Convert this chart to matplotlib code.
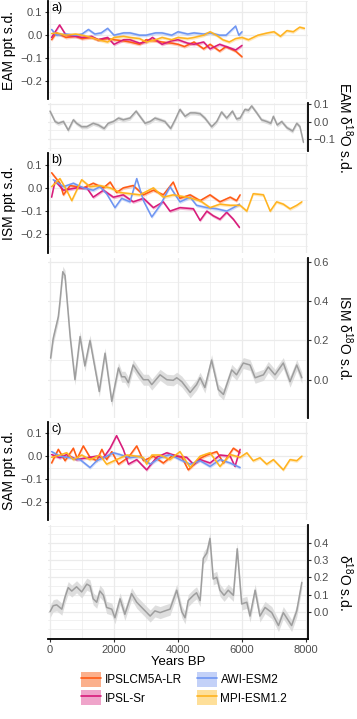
import numpy as np
import matplotlib
matplotlib.use("Agg")
import matplotlib.pyplot as plt
from matplotlib.patches import Patch
from matplotlib.lines import Line2D
from matplotlib.ticker import MultipleLocator

plt.rcParams["font.family"] = ["Liberation Sans", "DejaVu Sans"]
plt.rcParams["mathtext.fontset"] = "custom"
plt.rcParams["mathtext.rm"] = "Liberation Sans"
plt.rcParams["mathtext.it"] = "Liberation Sans:italic"
plt.rcParams["lines.solid_joinstyle"] = "round"
plt.rcParams["lines.solid_capstyle"] = "round"

# ---------------------------------------------------------------- data
models = ["IPSLCM5A-LR", "IPSL-Sr", "AWI-ESM2", "MPI-ESM1.2"]
line_colors = ["#FF5A14", "#D81B7A", "#6E95F2", "#FFB31F"]

# a) EAM precipitation s.d.
eam_ipslcm5a_x = [50, 200, 500, 800, 1000, 1300, 1500, 1800, 2000, 2300, 2500,
                  2800, 3000, 3300, 3500, 3800, 4000, 4200, 4500, 4800, 5000,
                  5300, 5500, 5800, 6000]
eam_ipslcm5a_y = [-0.02, 0.01, -0.01, -0.005, -0.015, -0.01, -0.02, -0.015,
                  -0.02, -0.025, -0.03, -0.04, -0.02, -0.025, -0.03, -0.035,
                  -0.04, -0.05, -0.03, -0.06, -0.04, -0.07, -0.05, -0.07,
                  -0.095]
eam_ipslsr_x = [50, 300, 500, 800, 1000, 1300, 1500, 1800, 2000, 2300, 2500,
                2800, 3000, 3200, 3500, 3800, 4000, 4300, 4500, 4800, 5000,
                5300, 5500, 5800, 6000]
eam_ipslsr_y = [-0.01, 0.045, 0.0, -0.005, -0.01, -0.005, -0.02, -0.01,
                -0.04, -0.02, -0.02, -0.035, -0.03, -0.01, -0.04, -0.025,
                -0.02, -0.035, -0.04, -0.03, -0.06, -0.04, -0.05, -0.065,
                -0.045]
eam_awi_x = [50, 200, 500, 800, 1000, 1200, 1400, 1600, 1800, 2000, 2300,
             2500, 2800, 3000, 3300, 3500, 3800, 4000, 4300, 4500, 4800, 5000,
             5300, 5500, 5800, 5900, 6000]
eam_awi_y = [0.025, 0.0, 0.005, 0.0, 0.005, 0.025, 0.005, 0.01, 0.03, 0.0,
             0.01, 0.01, 0.0, 0.0, 0.01, 0.01, 0.0, 0.015, 0.005, 0.01, 0.005,
             0.01, 0.0, 0.0, 0.04, 0.0, 0.015]
eam_mpi_x = [50, 200, 500, 800, 1000, 1300, 1500, 1800, 2000, 2300, 2500,
             2800, 3000, 3300, 3500, 3800, 4000, 4300, 4500, 4800, 5000, 5200,
             5400, 5600, 5800, 6000, 6200, 6500, 6800, 7000, 7200, 7400, 7600,
             7800, 7950]
eam_mpi_y = [0.007, 0.01, 0.0, 0.005, 0.0, -0.01, -0.02, -0.03, -0.01,
             -0.005, -0.01, -0.015, -0.03, -0.02, -0.01, -0.02, -0.01, -0.015,
             -0.01, 0.0, 0.015, 0.0, -0.02, -0.03, -0.015, -0.01, -0.02, 0.0,
             0.01, 0.015, -0.005, 0.02, 0.015, 0.035, 0.03]

# EAM speleothem d18O s.d.
eam_d18o_x = [0, 160, 260, 420, 570, 730, 830, 990, 1150, 1350, 1510, 1690,
              1820, 1980, 2140, 2290, 2500, 2690, 2810, 2970, 3130, 3280, 3440,
              3590, 3770, 3910, 4060, 4220, 4380, 4530, 4690, 4840, 5050, 5210,
              5360, 5520, 5700, 5830, 5940, 6090, 6200, 6300, 6460, 6610, 6770,
              6900, 6980, 7100, 7240, 7400, 7580, 7710, 7810, 7920]
eam_d18o_y = [0.06, 0.0, -0.01, 0.0, -0.05, 0.01, -0.01, -0.03, -0.03, -0.01,
              -0.02, -0.04, -0.01, 0.0, 0.02, 0.01, 0.02, 0.06, 0.03, -0.01,
              0.0, 0.02, 0.01, 0.0, -0.04, 0.01, 0.07, 0.03, 0.05, 0.05, 0.045,
              0.02, -0.03, 0.0, 0.055, 0.02, 0.06, 0.015, 0.02, 0.07, 0.065,
              0.09, 0.05, 0.01, 0.0, -0.01, 0.03, -0.02, 0.0, -0.035, -0.055,
              -0.01, -0.03, -0.12]

# b) ISM precipitation s.d.
ism_ipslcm5a_x = [50, 310, 420, 630, 1040, 1350, 1670, 1880, 2080, 2290, 2600,
                  2920, 3230, 3540, 3850, 4060, 4380, 4690, 5000, 5310, 5630,
                  5830, 5940]
ism_ipslcm5a_y = [0.065, 0.02, -0.03, 0.01, 0.0, 0.02, 0.0, 0.025, -0.02, 0.0,
                  0.01, -0.03, -0.01, -0.03, 0.025, -0.045, -0.03, -0.055,
                  -0.03, -0.06, -0.04, -0.055, -0.03]
ism_ipslsr_x = [50, 160, 420, 830, 1150, 1350, 1670, 1980, 2290, 2600, 2920,
                3230, 3540, 3750, 4060, 4480, 4690, 4900, 5100, 5310, 5520, 5730,
                5920]
ism_ipslsr_y = [-0.04, 0.03, -0.01, 0.0, 0.0, -0.04, -0.01, -0.04, -0.03, -0.06,
                -0.045, -0.085, -0.06, -0.1, -0.085, -0.09, -0.14, -0.1, -0.12,
                -0.135, -0.105, -0.135, -0.17]
ism_awi_x = [100, 420, 730, 1040, 1350, 1560, 1770, 2030, 2240, 2500, 2710,
             2920, 3180, 3440, 3750, 4060, 4380, 4580, 4900, 5210, 5520, 5730,
             5920]
ism_awi_y = [0.035, 0.005, 0.02, 0.0, -0.01, 0.005, -0.025, -0.085, -0.045,
             -0.06, 0.04, -0.055, -0.125, -0.075, 0.005, -0.06, -0.04, -0.075,
             -0.085, -0.09, -0.1, -0.085, -0.07]
ism_mpi_x = [50, 310, 520, 680, 990, 1250, 1560, 1880, 2190, 2500, 2810, 3230,
             3540, 3850, 4270, 4690, 5000, 5310, 5630, 5940, 6150, 6350, 6670,
             6880, 7080, 7290, 7500, 7710, 7870]
ism_mpi_y = [0.005, 0.04, -0.01, -0.055, 0.035, 0.005, 0.01, 0.0, -0.02,
             -0.025, -0.03, 0.0, -0.04, -0.03, -0.04, -0.055, -0.085, -0.07,
             -0.075, -0.075, -0.1, -0.025, -0.03, -0.1, -0.06, -0.07, -0.09,
             -0.075, -0.06]

# ISM speleothem d18O s.d.
ism_d18o_x = [20, 100, 260, 310, 400, 470, 630, 780, 940, 1090, 1250, 1540,
              1720, 1930, 2140, 2240, 2340, 2450, 2600, 2760, 2920, 3070, 3180,
              3440, 3650, 3850, 3960, 4120, 4380, 4580, 4690, 4840, 5050, 5260,
              5420, 5680, 5830, 6040, 6250, 6410, 6670, 6820, 7030, 7290, 7500,
              7710, 7870]
ism_d18o_y = [0.11, 0.21, 0.32, 0.395, 0.55, 0.53, 0.22, 0.0, 0.22, 0.07, 0.2,
              -0.06, 0.135, -0.11, 0.06, 0.015, 0.015, -0.015, 0.075, 0.035,
              0.0, 0.0, -0.025, 0.025, 0.0, -0.003, 0.01, -0.01, -0.065,
              -0.025, 0.01, -0.04, 0.1, -0.05, -0.075, 0.05, 0.025, 0.085,
              0.075, 0.01, 0.025, 0.065, 0.025, 0.085, -0.01, 0.075, 0.01]

# c) SAM precipitation s.d.
sam_ipslcm5a_x = [50, 260, 470, 730, 850, 1040, 1250, 1460, 1620, 1770, 1930,
                  2140, 2450, 2710, 2920, 3230, 3540, 3850, 4120, 4320, 4690,
                  4900, 5210, 5420, 5730, 5940]
sam_ipslcm5a_y = [-0.03, 0.03, -0.02, 0.035, -0.01, 0.045, -0.005, -0.02, 0.03,
                  -0.015, 0.02, -0.035, -0.005, 0.045, -0.02, 0.0, -0.03, 0.005,
                  -0.005, -0.06, -0.01, 0.005, 0.02, -0.03, 0.035, 0.015]
sam_ipslsr_x = [50, 310, 520, 830, 1150, 1460, 1670, 1880, 2080, 2290, 2450,
                2710, 3020, 3330, 3650, 3960, 4270, 4480, 4690, 5000, 5310, 5630,
                5780, 5940]
sam_ipslsr_y = [0.007, -0.007, 0.007, -0.015, -0.007, 0.0, -0.007, 0.035, 0.09,
                0.03, -0.035, -0.015, -0.06, -0.005, 0.015, 0.0, -0.005, -0.035,
                -0.015, -0.03, 0.005, 0.0, -0.045, 0.03]
sam_awi_x = [50, 310, 630, 940, 1250, 1460, 1770, 1980, 2190, 2500, 2810, 3130,
             3440, 3750, 4060, 4380, 4690, 5000, 5310, 5630, 5940]
sam_awi_y = [0.02, 0.0, -0.007, -0.015, -0.05, -0.02, 0.0, 0.015, 0.007,
             -0.007, 0.0, -0.035, -0.007, 0.007, -0.015, -0.035, -0.02, -0.045,
             -0.015, -0.03, -0.05]
sam_mpi_x = [50, 310, 520, 730, 990, 1250, 1560, 1770, 2080, 2400, 2710, 2920,
             3020, 3180, 3440, 3750, 4060, 4380, 4690, 5000, 5310, 5630, 5940,
             6150, 6350, 6560, 6770, 6980, 7290, 7500, 7710, 7870]
sam_mpi_y = [-0.005, 0.005, 0.015, -0.015, 0.005, -0.015, 0.005, -0.035,
             -0.015, 0.005, 0.0, -0.007, -0.035, 0.005, 0.005, -0.015, 0.02,
             -0.05, 0.0, 0.015, -0.045, 0.007, -0.005, 0.015, -0.02, -0.007,
             -0.035, -0.015, -0.06, -0.015, -0.02, 0.0]

# SAM speleothem d18O s.d.
sam_d18o_x = [0, 100, 210, 370, 470, 570, 680, 830, 990, 1150, 1250, 1350, 1460,
              1560, 1670, 1770, 1930, 2030, 2190, 2340, 2550, 2710, 2920, 3130,
              3280, 3440, 3590, 3750, 3960, 4120, 4220, 4320, 4480, 4580, 4690,
              4790, 4900, 5000, 5100, 5210, 5310, 5440, 5570, 5730, 5850, 5990,
              6150, 6250, 6410, 6560, 6720, 6930, 7140, 7290, 7550, 7710, 7870]
sam_d18o_y = [0.0, 0.035, 0.04, 0.015, 0.085, 0.14, 0.12, 0.145, 0.115, 0.16,
              0.15, 0.075, 0.055, 0.12, 0.095, 0.025, 0.015, -0.035, 0.075,
              -0.015, 0.105, 0.055, 0.015, -0.025, 0.005, -0.005, 0.005, 0.015,
              0.125, 0.0, -0.035, 0.065, 0.095, 0.11, 0.065, 0.31, 0.34, 0.425,
              0.19, 0.2, 0.125, 0.095, 0.125, 0.095, 0.365, 0.045, 0.055,
              -0.025, 0.125, -0.025, 0.025, -0.005, -0.08, -0.005, -0.08, 0.005,
              0.17]

ppt_ticks = [-0.2, -0.1, 0.0, 0.1]
eam_d18o_ticks = [-0.1, 0.0, 0.1]
ism_d18o_ticks = [0.0, 0.2, 0.4, 0.6]
sam_d18o_ticks = [0.0, 0.1, 0.2, 0.3, 0.4]
year_ticks = [0, 2000, 4000, 6000, 8000]

# ---------------------------------------------------------------- layout
W, H = 357, 719
X_LEFT, X_RIGHT = 48, 308
XLIM = (-62, 8062)
GRID = "#EBEBEB"
TICK_TEXT = "#4D4D4D"
D18O_LINE = "#9E9E9E"
D18O_FILL = "#D9D9D9"


def make_axes(fig, top, bottom):
    ax = fig.add_axes([X_LEFT / W, 1 - bottom / H,
                       (X_RIGHT - X_LEFT) / W, (bottom - top) / H])
    ax.set_facecolor("none")
    ax.set_xlim(*XLIM)
    ax.xaxis.set_major_locator(MultipleLocator(2000))
    ax.xaxis.set_minor_locator(MultipleLocator(1000))
    ax.grid(True, which="major", color=GRID, lw=0.9, zorder=0)
    ax.grid(True, which="minor", color=GRID, lw=0.5, zorder=0)
    for s in ax.spines.values():
        s.set_visible(False)
    ax.tick_params(axis="x", which="both", length=0, labelbottom=False)
    ax.tick_params(axis="y", which="minor", length=0)
    ax.tick_params(axis="y", which="major", length=2.5, width=0.8,
                   color="#333333", labelsize=8, labelcolor=TICK_TEXT, pad=1.5)
    return ax


def model_panel(fig, top, bottom, series, ylabel, tag):
    ax = make_axes(fig, top, bottom)
    ax.set_ylim(-0.28, 0.15)
    ax.set_yticks(ppt_ticks)
    ax.yaxis.set_minor_locator(MultipleLocator(0.05))
    ax.spines["left"].set_visible(True)
    ax.spines["left"].set_linewidth(1.3)
    for (x, y), col in zip(series, line_colors):
        x = np.asarray(x)
        y = np.asarray(y)
        ax.fill_between(x, y - 0.007, y + 0.007, color=col, alpha=0.3, lw=0,
                        zorder=2)
        ax.plot(x, y, color=col, lw=1.1, zorder=3)
    ax.text(0.012, 0.985, tag, transform=ax.transAxes, ha="left", va="top",
            fontsize=9, color="black")
    yc = 1 - (top + bottom) / 2 / H
    fig.text(9 / W, yc, ylabel, rotation=90, ha="center", va="center",
             fontsize=10, color="black")
    return ax


def d18o_panel(fig, top, bottom, x, y, spread, ylim, ticks, ylabel):
    ax = make_axes(fig, top, bottom)
    ax.set_ylim(*ylim)
    ax.set_yticks(ticks)
    step = ticks[1] - ticks[0]
    ax.yaxis.set_minor_locator(MultipleLocator(step / 2))
    ax.yaxis.tick_right()
    ax.spines["right"].set_visible(True)
    ax.spines["right"].set_linewidth(1.3)
    x = np.asarray(x)
    y = np.asarray(y)
    ax.fill_between(x, y - spread, y + spread, color=D18O_FILL, alpha=0.85,
                    lw=0, zorder=2)
    ax.plot(x, y, color=D18O_LINE, lw=1.1, zorder=3)
    yc = 1 - (top + bottom) / 2 / H
    fig.text(345 / W, yc, ylabel, rotation=270, ha="center", va="center",
             fontsize=10, color="black")
    return ax


fig = plt.figure(figsize=(W / 100, H / 100), dpi=100)

model_panel(fig, 1, 99,
            [(eam_ipslcm5a_x, eam_ipslcm5a_y), (eam_ipslsr_x, eam_ipslsr_y),
             (eam_awi_x, eam_awi_y), (eam_mpi_x, eam_mpi_y)],
            "EAM ppt s.d.", "a)")
d18o_panel(fig, 103, 151, eam_d18o_x, eam_d18o_y, 0.012, (-0.17, 0.107),
           eam_d18o_ticks, "EAM δ$^{18}$O s.d.")

model_panel(fig, 153, 253,
            [(ism_ipslcm5a_x, ism_ipslcm5a_y), (ism_ipslsr_x, ism_ipslsr_y),
             (ism_awi_x, ism_awi_y), (ism_mpi_x, ism_mpi_y)],
            "ISM ppt s.d.", "b)")
d18o_panel(fig, 258, 418, ism_d18o_x, ism_d18o_y, 0.028, (-0.195, 0.62),
           ism_d18o_ticks, "ISM δ$^{18}$O s.d.")

model_panel(fig, 422, 520,
            [(sam_ipslcm5a_x, sam_ipslcm5a_y), (sam_ipslsr_x, sam_ipslsr_y),
             (sam_awi_x, sam_awi_y), (sam_mpi_x, sam_mpi_y)],
            "SAM ppt s.d.", "c)")
ax = d18o_panel(fig, 525, 639, sam_d18o_x, sam_d18o_y, 0.035, (-0.158, 0.503),
                sam_d18o_ticks, "δ$^{18}$O s.d.")

# bottom x axis
ax.spines["bottom"].set_visible(True)
ax.spines["bottom"].set_linewidth(1.3)
ax.set_xticks(year_ticks)
ax.tick_params(axis="x", which="major", length=2.5, width=0.8,
               color="#333333", labelbottom=True, labelsize=8,
               labelcolor=TICK_TEXT, pad=1.5)
ax.set_xlabel("Years BP", fontsize=9.5, labelpad=1)

# legend
fills = ["#FBB08C", "#EFA4CA", "#C3D1F8", "#FEDF99"]
handles = [(Patch(facecolor=f, edgecolor="none"),
            Line2D([], [], color=c, lw=1.2))
           for f, c in zip(fills, line_colors)]
fig.legend(handles, models, ncol=2, loc="upper center",
           bbox_to_anchor=(184 / W, 1 - 672 / H), frameon=False,
           fontsize=8.5, handlelength=1.7, handleheight=1.55,
           handletextpad=0.3, columnspacing=1.3, labelspacing=0.3,
           borderpad=0, borderaxespad=0)

fig.savefig("out.png", dpi=100)
